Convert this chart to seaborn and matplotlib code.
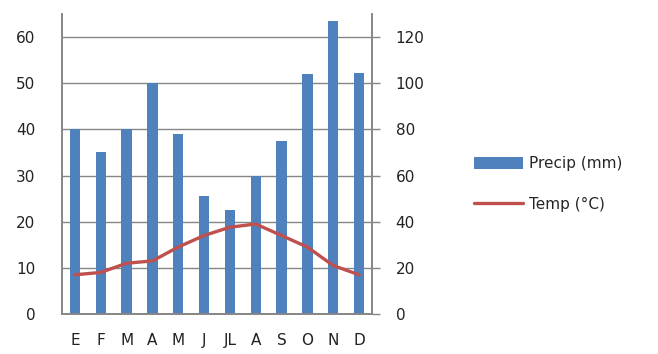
import numpy as np
import pandas as pd
import matplotlib
matplotlib.use("Agg")
import matplotlib.pyplot as plt
import seaborn as sns
from matplotlib.patches import Patch
from matplotlib.lines import Line2D

# ── Data ─────────────────────────────────────────────────────────────────────
months = ["E", "F", "M", "A", "M", "J", "JL", "A", "S", "O", "N", "D"]
precip_mm = [80, 70, 80, 100, 78, 51, 45, 60, 75, 104, 127, 104.5]
temp_c = [8.5, 9, 11, 11.5, 14.5, 17, 18.8, 19.5, 17, 14.5, 10.5, 8.5]

BLUE = "#4F81BD"
RED = "#C0504D"
GRAY = "#868686"

sns.set_style("white")
plt.rcParams["font.family"] = ["DejaVu Sans"]

df = pd.DataFrame({"pos": np.arange(len(months)), "precip": precip_mm, "temp": temp_c})

fig = plt.figure(figsize=(6.58, 3.54), dpi=100)
ax_t = fig.add_axes([0.0942, 0.113, 0.4711, 0.8475])  # temperature, left axis
ax_p = ax_t.twinx()                                   # precipitation, right axis

# bars + grid underneath, line on top
ax_t.set_zorder(ax_p.get_zorder() + 1)
ax_t.patch.set_visible(False)

sns.barplot(data=df, x="pos", y="precip", color=BLUE, saturation=1,
            width=0.4, linewidth=0, ax=ax_p, zorder=2)
sns.lineplot(data=df, x="pos", y="temp", color=RED, linewidth=2.4, ax=ax_t)

ax_t.set_xlim(-0.5, 11.5)
ax_p.set_xlim(-0.5, 11.5)
ax_t.set_ylim(0, 65)
ax_p.set_ylim(0, 130)
ax_t.set_yticks(range(0, 61, 10))
ax_p.set_yticks(range(0, 121, 20))

ax_p.set_axisbelow(True)
ax_p.yaxis.grid(True, color=GRAY, linewidth=1)
ax_p.xaxis.grid(False)
ax_t.grid(False)

ax_t.set_xticks(range(len(months)))
ax_t.set_xticklabels(months)
ax_t.set_xlabel("")
ax_t.set_ylabel("")
ax_p.set_xlabel("")
ax_p.set_ylabel("")

ax_t.tick_params(axis="x", length=0, pad=14, labelsize=11, labelcolor="#222222")
ax_t.tick_params(axis="y", length=0, pad=19, labelsize=11, labelcolor="#222222")
ax_p.tick_params(axis="y", length=6, width=1, color=GRAY, direction="out",
                 pad=11, labelsize=11, labelcolor="#222222")

for ax in (ax_t, ax_p):
    ax.spines["top"].set_visible(False)
    for side in ("left", "right", "bottom"):
        ax.spines[side].set_color(GRAY)
        ax.spines[side].set_linewidth(1.2)

handles = [Patch(facecolor=BLUE, edgecolor="none", label="Precip (mm)"),
           Line2D([0], [0], color=RED, linewidth=2.4, label="Temp (°C)")]
fig.legend(handles=handles, loc="center left", bbox_to_anchor=(0.7, 0.48),
           frameon=False, fontsize=11, handlelength=3.2, handleheight=0.8,
           handletextpad=0.4, labelspacing=1.7)

fig.savefig("out.png", dpi=100)
